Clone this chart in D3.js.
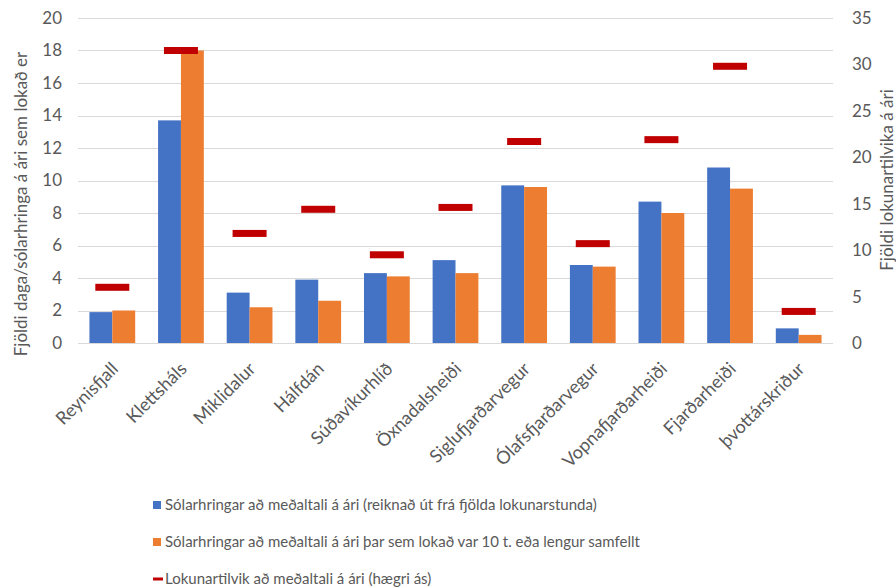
<!DOCTYPE html>
<html>
<head>
<meta charset="utf-8">
<script src="https://cdnjs.cloudflare.com/ajax/libs/d3/7.8.5/d3.min.js"></script>
<style>
  body { margin: 0; background: #fff; }
  svg text { font-family: Lato, "Open Sans", sans-serif; fill: #595959; }
</style>
</head>
<body>
<svg id="draw"></svg>
<script>
// data
var categories = ["Reynisfjall", "Klettsháls", "Miklidalur", "Hálfdán", "Súðavíkurhlíð",
  "Öxnadalsheiði", "Siglufjarðarvegur", "Ólafsfjarðarvegur", "Vopnafjarðarheiði",
  "Fjarðarheiði", "þvottárskriður"];
var daysAll = [1.9, 13.7, 3.1, 3.9, 4.3, 5.1, 9.7, 4.8, 8.7, 10.8, 0.9];
var daysLong = [2.0, 18.0, 2.2, 2.6, 4.1, 4.3, 9.6, 4.7, 8.0, 9.5, 0.5];
var closures = [6.0, 31.5, 11.8, 14.4, 9.5, 14.6, 21.7, 10.7, 21.9, 29.8, 3.4];
var leftTicks = [0, 2, 4, 6, 8, 10, 12, 14, 16, 18, 20];
var rightTicks = [0, 5, 10, 15, 20, 25, 30, 35];
var seriesNames = [
  "Sólarhringar að meðaltali á ári (reiknað út frá fjölda lokunarstunda)",
  "Sólarhringar að meðaltali á ári þar sem lokað var 10 t. eða lengur samfellt",
  "Lokunartilvik að meðaltali á ári (hægri ás)"
];
var colors = ["#4472C4", "#ED7D31", "#C00000"];

let width = 896;
let height = 588;
let plot = { left: 78, right: 833, top: 18, bottom: 343 };

var svg = d3.select("#draw")
  .attr("width", width)
  .attr("height", height);

var xScale = d3.scaleBand()
  .domain(categories)
  .range([plot.left, plot.right])
  .paddingInner(0)
  .paddingOuter(0);

var xInner = d3.scaleBand()
  .domain([0, 1])
  .range([0, xScale.bandwidth()])
  .paddingInner(0)
  .paddingOuter(0.5);

var yLeft = d3.scaleLinear().domain([0, 20]).range([plot.bottom, plot.top]);
var yRight = d3.scaleLinear().domain([0, 35]).range([plot.bottom, plot.top]);

// gridlines
svg.append("g")
  .selectAll("line")
  .data(leftTicks)
  .enter().append("line")
  .attr("x1", plot.left)
  .attr("x2", plot.right)
  .attr("y1", function(d) { return Math.round(yLeft(d)) + 0.5; })
  .attr("y2", function(d) { return Math.round(yLeft(d)) + 0.5; })
  .attr("stroke", "#d9d9d9")
  .attr("stroke-width", 1);

// left axis
var leftAxis = svg.append("g")
  .attr("transform", "translate(" + (plot.left - 16) + ",0)")
  .call(d3.axisLeft(yLeft).tickValues(leftTicks).tickSize(0).tickPadding(0));
leftAxis.select(".domain").remove();
leftAxis.selectAll("text").attr("font-size", 17).attr("fill", "#595959");

// right axis
var rightAxis = svg.append("g")
  .attr("transform", "translate(" + (plot.right + 19) + ",0)")
  .call(d3.axisRight(yRight).tickValues(rightTicks).tickSize(0).tickPadding(0));
rightAxis.select(".domain").remove();
rightAxis.selectAll("text").attr("font-size", 17).attr("fill", "#595959");

// bars
var groups = svg.append("g")
  .selectAll("g")
  .data(categories)
  .enter().append("g")
  .attr("transform", function(d) { return "translate(" + xScale(d) + ",0)"; });

groups.append("rect")
  .attr("x", xInner(0))
  .attr("y", function(d, i) { return yLeft(daysAll[i]); })
  .attr("width", xInner.bandwidth())
  .attr("height", function(d, i) { return plot.bottom - yLeft(daysAll[i]); })
  .attr("fill", colors[0]);

groups.append("rect")
  .attr("x", xInner(1))
  .attr("y", function(d, i) { return yLeft(daysLong[i]); })
  .attr("width", xInner.bandwidth())
  .attr("height", function(d, i) { return plot.bottom - yLeft(daysLong[i]); })
  .attr("fill", colors[1]);

// closure markers (right axis)
groups.append("rect")
  .attr("x", xScale.bandwidth() / 2 - 17)
  .attr("y", function(d, i) { return yRight(closures[i]) - 3.5; })
  .attr("width", 34)
  .attr("height", 7)
  .attr("fill", colors[2]);

// category labels
svg.append("g")
  .selectAll("text")
  .data(categories)
  .enter().append("text")
  .attr("transform", function(d) {
    return "translate(" + (xScale(d) + xScale.bandwidth() / 2 + 7) + "," + (plot.bottom + 27) + ") rotate(-45)";
  })
  .attr("text-anchor", "end")
  .attr("font-size", 18)
  .text(function(d) { return d; });

// axis titles
svg.append("text")
  .attr("transform", "translate(27,204) rotate(-90)")
  .attr("text-anchor", "middle")
  .attr("font-size", 17)
  .text("Fjöldi daga/sólarhringa á ári sem lokað er");

svg.append("text")
  .attr("transform", "translate(893,180) rotate(-90)")
  .attr("text-anchor", "middle")
  .attr("font-size", 17)
  .text("Fjöldi lokunartilvika á ári");

// legend
var legend = svg.append("g")
  .selectAll("g")
  .data(seriesNames)
  .enter().append("g")
  .attr("transform", function(d, i) { return "translate(153," + (505 + i * 37) + ")"; });

legend.append("rect")
  .attr("x", 0)
  .attr("y", function(d, i) { return i < 2 ? -4 : -1.5; })
  .attr("width", function(d, i) { return i < 2 ? 8 : 10; })
  .attr("height", function(d, i) { return i < 2 ? 8 : 3; })
  .attr("fill", function(d, i) { return colors[i]; });

legend.append("text")
  .attr("x", 12)
  .attr("dy", "0.35em")
  .attr("font-size", 15)
  .text(function(d) { return d; });
</script>
</body>
</html>
